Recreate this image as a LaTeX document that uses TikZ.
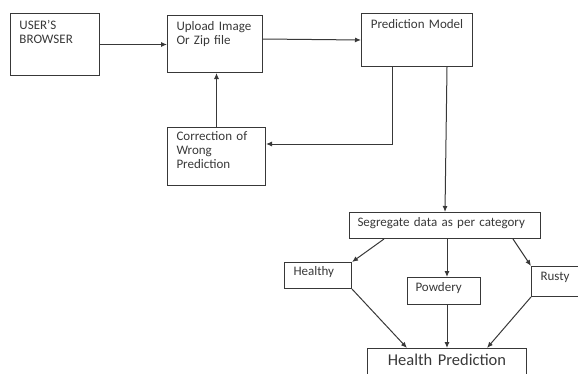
\documentclass[tikz,border=0pt]{standalone}
\usepackage{fontspec}
\setmainfont{Carlito}
\usetikzlibrary{arrows.meta}
\definecolor{inkgray}{HTML}{383838}

\begin{document}
\begin{tikzpicture}[x=1pt,y=-1pt]
\tikzset{blk/.style={draw=inkgray,line width=1pt,anchor=north west,inner xsep=9pt,inner ysep=0pt,align=left,text=inkgray,font=\fontsize{13}{14}\selectfont}}
\tikzset{flow/.style={draw=inkgray,line width=1pt,-{Latex[length=6pt,width=5pt]}}}

\path[use as bounding box,clip] (0,0) rectangle (578,373);

% top row
\node[blk,text width=71pt,text height=16pt,text depth=46pt] (browser) at (10,13) {USER'S\\BROWSER};
\node[blk,text width=77pt,text height=15pt,text depth=42pt] (upload) at (167,15) {Upload Image\\Or Zip file};
\node[blk,align=center,inner xsep=4pt,text width=103pt,text height=15pt,text depth=38pt] (prediction) at (361,13) {Prediction Model};
\node[blk,text width=80pt,text height=13pt,text depth=45pt] (correction) at (167,127) {Correction of\\Wrong\\Prediction};

% categories
\node[blk,inner xsep=8pt,text width=175pt,text height=14pt,text depth=12pt] (segregate) at (349,212) {Segregate data as per category};
\node[blk,text width=49pt,text height=13pt,text depth=13pt] (healthy) at (284,262) {Healthy};
\node[blk,inner xsep=8pt,text width=57pt,text height=14pt,text depth=13pt] (powdery) at (407,277) {Powdery};
\node[blk,text width=42pt,text height=14pt,text depth=16pt] (rusty) at (531,266) {Rusty};
\node[blk,align=center,text width=141pt,text height=17pt,text depth=22pt,font=\fontsize{16.5}{19}\selectfont] (health) at (367,348) {Health Prediction};

\coordinate (bend) at (392,144);

\draw[flow] (browser.east) -- (browser.east -| upload.west);
\draw[flow] ([yshift=5pt]upload.east) -- (prediction.west);
\draw[flow] (correction.north) -- (correction.north |- upload.south);
\draw[flow] (prediction.south -| bend) |- (correction.east |- bend);
\draw[flow] ([xshift=30pt]prediction.south) -- (segregate.north);
\draw[flow] ([xshift=-61pt]segregate.south) -- (healthy.north east);
\draw[flow] ([xshift=3pt]powdery.north |- segregate.south) -- ([xshift=3pt]powdery.north);
\draw[flow] ([xshift=68pt]segregate.south) -- (rusty.north west);
\draw[flow] (healthy.south east) -- ([xshift=-40pt]health.north);
\draw[flow] ([xshift=3pt]powdery.south) -- ([xshift=3pt]powdery.south |- health.north);
\draw[flow] (rusty.south west) -- ([xshift=40pt]health.north);

\end{tikzpicture}
\end{document}
